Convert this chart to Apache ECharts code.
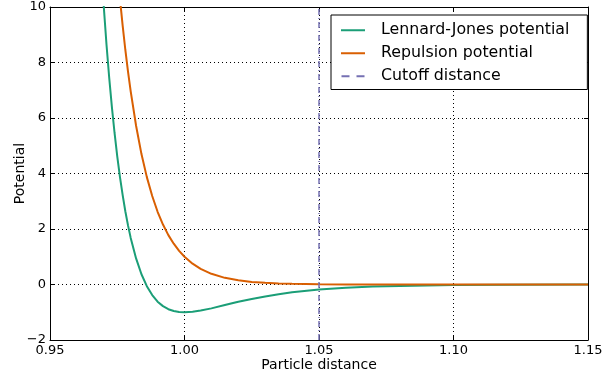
<!DOCTYPE html>
<html>
<head>
<meta charset="utf-8">
<script src="https://cdn.jsdelivr.net/npm/echarts@6/dist/echarts.min.js"></script>
<style>
  html, body { margin: 0; padding: 0; background: #fff; }
  #chart { width: 603px; height: 377px; }
</style>
</head>
<body>
<div id="chart"></div>
<script>
// values
const ljDist = [0.969, 0.970, 0.971, 0.972, 0.973, 0.974, 0.975, 0.976, 0.977, 0.978, 0.979, 0.980, 0.982, 0.984, 0.986, 0.988, 0.990, 0.992, 0.994, 0.996, 0.998, 1.000, 1.003, 1.006, 1.010, 1.015, 1.020, 1.025, 1.030, 1.035, 1.040, 1.050, 1.060, 1.070, 1.080, 1.090, 1.100, 1.120, 1.150];
const ljValue = [11.5, 10.0, 8.65, 7.46, 6.4, 5.46, 4.62, 3.88, 3.23, 2.64, 2.13, 1.68, 0.94, 0.37, -0.06, -0.38, -0.62, -0.78, -0.89, -0.955, -0.99, -1.0, -0.98, -0.94, -0.86, -0.74, -0.62, -0.52, -0.43, -0.35, -0.28, -0.18, -0.12, -0.076, -0.05, -0.032, -0.021, -0.009, -0.002];
const repDist = [0.975, 0.976, 0.977, 0.978, 0.979, 0.980, 0.982, 0.984, 0.986, 0.988, 0.990, 0.992, 0.994, 0.996, 0.998, 1.000, 1.003, 1.006, 1.010, 1.015, 1.020, 1.025, 1.030, 1.035, 1.040, 1.050, 1.060, 1.080, 1.150];
const repValue = [11.4, 10.3, 9.34, 8.46, 7.67, 6.96, 5.72, 4.7, 3.87, 3.19, 2.62, 2.16, 1.78, 1.47, 1.21, 1.0, 0.75, 0.56, 0.385, 0.24, 0.15, 0.093, 0.059, 0.037, 0.023, 0.009, 0.004, 0.001, 0];
const cutoff = 1.05;
const xTicks = [0.95, 1.15, 0.05];
const yTicks = [-2, 10, 2];

const pairs = (xs, ys) => xs.map((x, i) => [x, ys[i]]);
const font = "DejaVu Sans";
const mychart = echarts.init(document.getElementById("chart"));

const gridLine = { show: true, lineStyle: { color: "#000", type: [1, 3], width: 1 } };
const frame = { show: true, onZero: false, lineStyle: { color: "#000", width: 1 } };
const ticksIn = { show: true, inside: true, length: 4, lineStyle: { color: "#000" } };

const option = {
  animation: false,
  textStyle: { fontFamily: font },
  grid: { left: 50, top: 7, right: 15, bottom: 37, outerBoundsMode: "none", containLabel: false },
  legend: {
    orient: "vertical",
    left: 331,
    top: 15,
    itemWidth: 24,
    itemHeight: 2,
    itemGap: 6.5,
    padding: [7, 18, 5, 10],
    borderColor: "#000",
    borderWidth: 1,
    borderRadius: 0,
    backgroundColor: "#fff",
    textStyle: { fontFamily: font, fontSize: 15.8, lineHeight: 16.5, color: "#000", padding: [0, 0, 0, 11] },
    data: [
      { name: "Lennard-Jones potential", icon: "rect" },
      { name: "Repulsion potential", icon: "rect" },
      { name: "Cutoff distance", icon: "path://M0,0H8V2H0Z M15,0H23V2H15Z" }
    ]
  },
  xAxis: [
    {
      type: "value",
      min: xTicks[0], max: xTicks[1], interval: xTicks[2],
      name: "Particle distance",
      nameLocation: "middle",
      nameGap: 18,
      nameMoveOverlap: false,
      nameTextStyle: { fontFamily: font, fontSize: 14, color: "#000" },
      axisLine: frame,
      axisTick: ticksIn,
      splitLine: gridLine,
      axisLabel: {
        fontFamily: font, fontSize: 13, color: "#000", margin: 4,
        formatter: (v) => v.toFixed(2)
      }
    },
    {
      type: "value", position: "top",
      min: xTicks[0], max: xTicks[1], interval: xTicks[2],
      axisLine: frame, axisTick: ticksIn, axisLabel: { show: false }, splitLine: { show: false }
    }
  ],
  yAxis: [
    {
      type: "value",
      min: yTicks[0], max: yTicks[1], interval: yTicks[2],
      name: "Potential",
      nameLocation: "middle",
      nameGap: 23,
      nameMoveOverlap: false,
      nameTextStyle: { fontFamily: font, fontSize: 14, color: "#000" },
      axisLine: frame,
      axisTick: ticksIn,
      splitLine: gridLine,
      axisLabel: {
        fontFamily: font, fontSize: 13, color: "#000", margin: 4,
        formatter: (v) => String(v).replace("-", "\u2212")
      }
    },
    {
      type: "value", position: "right",
      min: yTicks[0], max: yTicks[1], interval: yTicks[2],
      axisLine: frame, axisTick: ticksIn, axisLabel: { show: false }, splitLine: { show: false }
    }
  ],
  series: [
    {
      name: "Lennard-Jones potential",
      type: "line",
      data: pairs(ljDist, ljValue),
      smooth: false,
      symbol: "none",
      clip: true,
      color: "#1b9e77",
      lineStyle: { color: "#1b9e77", width: 2 }
    },
    {
      name: "Repulsion potential",
      type: "line",
      data: pairs(repDist, repValue),
      smooth: false,
      symbol: "none",
      clip: true,
      color: "#d95f02",
      lineStyle: { color: "#d95f02", width: 2 }
    },
    {
      name: "Cutoff distance",
      type: "line",
      data: [[cutoff, yTicks[0]], [cutoff, yTicks[1]]],
      symbol: "none",
      color: "#7570b3",
      lineStyle: { color: "#7570b3", width: 1.5, type: [6, 3, 1, 3] }
    }
  ]
};
mychart.setOption(option);
</script>
</body>
</html>
